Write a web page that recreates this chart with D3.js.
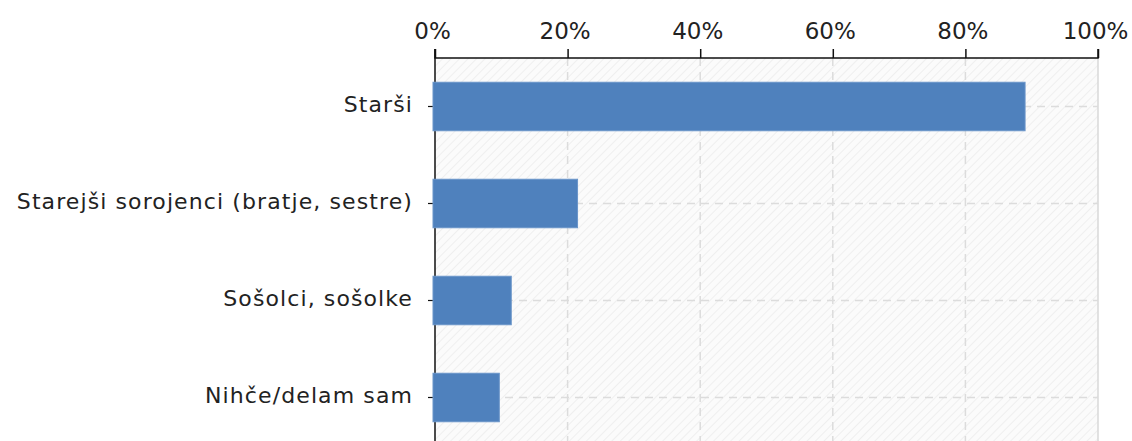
<!DOCTYPE html>
<html>
<head>
<meta charset="utf-8">
<script src="https://cdn.jsdelivr.net/npm/d3@7"></script>
<style>
  body { margin: 0; background: #fff; }
  text { font-family: "DejaVu Sans", Verdana, sans-serif; fill: #222; }
</style>
</head>
<body>
<svg width="1132" height="441"></svg>
<script>
// answers and share of respondents (%)
var categories = ["Starši", "Starejši sorojenci (bratje, sestre)", "Sošolci, sošolke", "Nihče/delam sam"];
var values = [89, 21.5, 11.5, 9.7];
var tickValues = [0, 20, 40, 60, 80, 100];

var svg = d3.select("svg"),
    margin = {top: 58, left: 435, right: 34},
    width = +svg.attr("width"),
    height = +svg.attr("height");

var x = d3.scaleLinear()
    .domain([0, 100])
    .range([margin.left, width - margin.right]);

var y = d3.scaleBand()
    .domain(categories)
    .range([margin.top, margin.top + 388])
    .paddingInner(0.5)
    .paddingOuter(0.25);

var defs = svg.append("defs");
var hatch = defs.append("pattern")
    .attr("id", "hatch")
    .attr("patternUnits", "userSpaceOnUse")
    .attr("width", 6)
    .attr("height", 6)
    .attr("patternTransform", "rotate(45)");
hatch.append("rect").attr("width", 6).attr("height", 6).attr("fill", "#fbfbfb");
hatch.append("line")
    .attr("x1", 0).attr("y1", 0).attr("x2", 0).attr("y2", 6)
    .attr("stroke", "#ececec").attr("stroke-width", 1.5);

// plot background
svg.append("rect")
    .attr("x", x(0))
    .attr("y", margin.top)
    .attr("width", x(100) - x(0))
    .attr("height", height - margin.top)
    .attr("fill", "url(#hatch)");

svg.append("line")
    .attr("x1", x(100)).attr("x2", x(100))
    .attr("y1", margin.top).attr("y2", height)
    .attr("stroke", "#d8d8d8").attr("stroke-width", 1.5);

// grid
svg.append("g")
  .selectAll("line")
  .data(tickValues.slice(1, -1))
  .enter().append("line")
    .attr("x1", function(d) { return x(d); })
    .attr("x2", function(d) { return x(d); })
    .attr("y1", margin.top)
    .attr("y2", height)
    .attr("stroke", "#dcdcdc")
    .attr("stroke-width", 1.5)
    .attr("stroke-dasharray", "8,6");

svg.append("g")
  .selectAll("line")
  .data(categories)
  .enter().append("line")
    .attr("x1", x(0))
    .attr("x2", x(100))
    .attr("y1", function(d) { return y(d) + y.bandwidth() / 2; })
    .attr("y2", function(d) { return y(d) + y.bandwidth() / 2; })
    .attr("stroke", "#dcdcdc")
    .attr("stroke-width", 1.5)
    .attr("stroke-dasharray", "8,6");

// axes
var xAxis = svg.append("g")
    .attr("transform", "translate(0," + margin.top + ")")
    .call(d3.axisTop(x).tickValues(tickValues).tickSize(9).tickPadding(10)
      .tickFormat(function(d) { return d + "%"; }));
xAxis.selectAll("text")
    .style("font-size", "23px")
    .attr("dx", "-3px");
xAxis.selectAll("line, path").attr("stroke", "#111").attr("stroke-width", 1.5);
xAxis.select(".domain").attr("d", "M" + x(0) + ",-9V0H" + x(100) + "V-9");

var yAxis = svg.append("g")
    .attr("transform", "translate(" + x(0) + ",0)")
    .call(d3.axisLeft(y).tickSize(7).tickPadding(15));
yAxis.selectAll("text")
    .style("font-size", "22px")
    .style("letter-spacing", "1.1px")
    .attr("dy", "0.24em");
yAxis.selectAll("line").attr("stroke", "#111").attr("stroke-width", 1.2);
yAxis.select(".domain").attr("d", "M0," + (margin.top - 9) + "V" + height)
    .attr("stroke", "#111").attr("stroke-width", 1.5);

// bars
svg.append("g")
  .selectAll("rect")
  .data(values)
  .enter().append("rect")
    .attr("x", x(0) - 2)
    .attr("y", function(d, i) { return y(categories[i]); })
    .attr("width", function(d) { return x(d) - x(0) + 2; })
    .attr("height", y.bandwidth())
    .attr("fill", "#4f81bd")
    .attr("stroke", "#6a95c9")
    .attr("stroke-width", 1);
</script>
</body>
</html>
